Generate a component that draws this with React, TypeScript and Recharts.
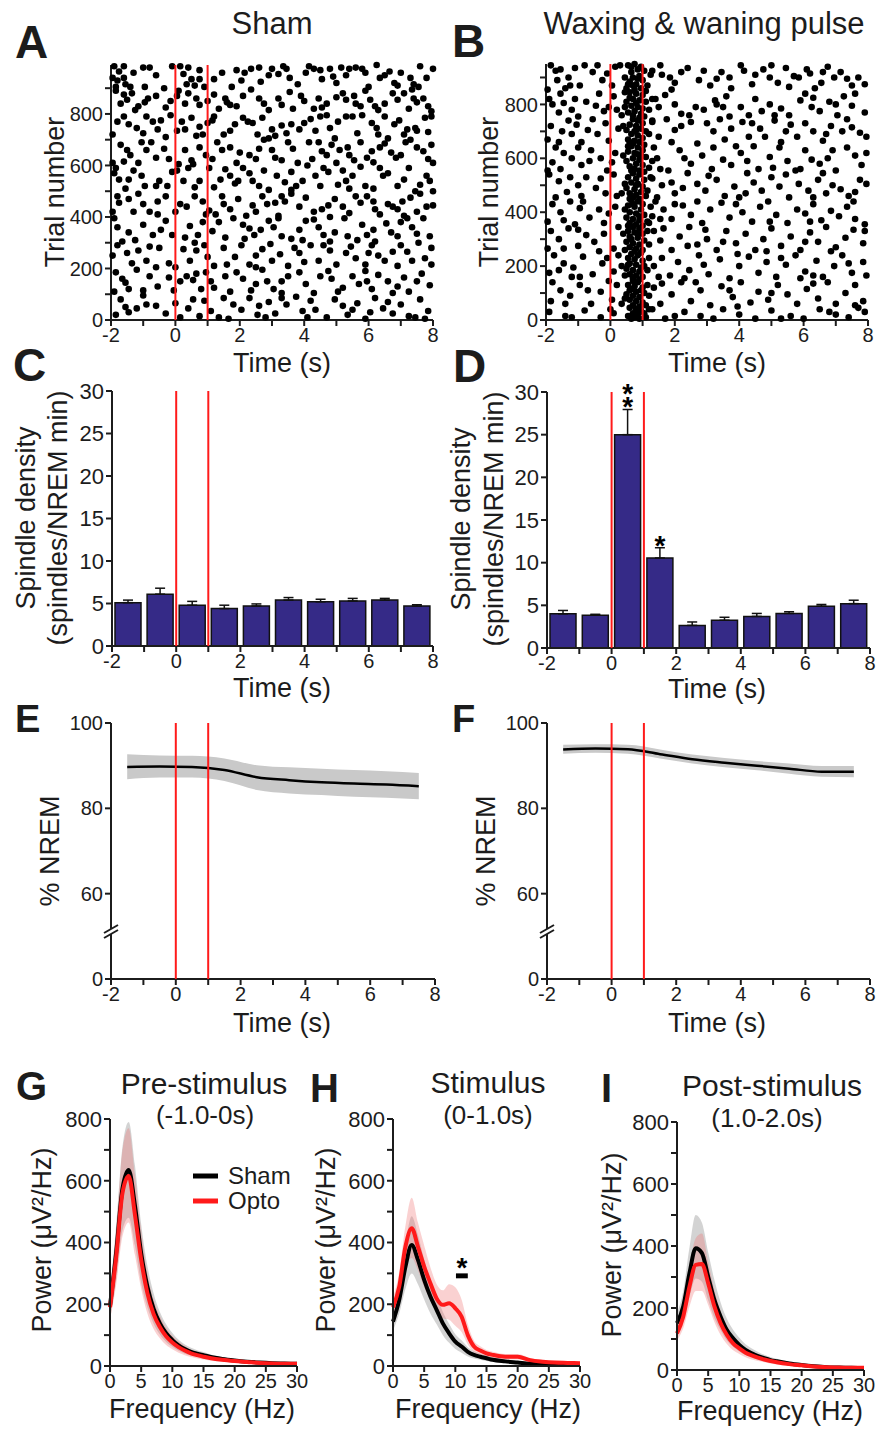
import React from 'react';
import {
  ScatterChart, Scatter, ComposedChart, Bar, ErrorBar, Line, Area,
  XAxis, YAxis, ReferenceLine, ReferenceArea,
} from 'recharts';

const FONT = 'Arial, "Liberation Sans", Helvetica, sans-serif';
const INK = '#1c1c1c';
const RED = '#ff1a1a';
const BAR = '#352a87';

// raster dots: [time (s), trial]
const shamRaster = [
  [-1.9,985],[-1.6,985],[-1.95,940],[-1.8,930],[-1.6,940],[-1.85,905],[-1.55,915],[-1.0,980],[-0.8,980],[-0.1,985],[0.15,985],[0.25,955],[0.4,980],[0.5,935],[0.75,970],[0.75,935],[0.35,915],[1.9,970],[2.15,960],[2.35,975],[2.6,980],[2.65,925],[3.0,975],[3.2,955],[3.35,985],[3.45,975],[3.55,940],[4.15,985],[4.3,975],[4.5,970],[4.55,935],[4.8,975],[4.9,945],[5.15,980],[5.4,975],[5.6,980],[5.8,975],[5.9,960],[6.25,990],[6.35,940],[6.5,950],[6.8,920],[6.9,910],[7.3,940],[7.4,915],[7.55,905],[7.6,985],[8.0,975],[-1.3,960],[1.2,935],
  [-1.85,890],[-1.6,875],[-1.5,855],[-1.7,840],[-0.95,905],[-0.85,860],[-0.95,845],[-1.15,830],[-0.3,825],[0.1,890],[0.05,870],[0.4,880],[0.65,860],[0.75,835],[1.2,875],[1.55,860],[1.6,845],[1.7,835],[1.9,830],[2.35,895],[2.6,860],[2.75,840],[3.2,860],[3.3,835],[3.9,870],[4.0,850],[4.3,820],[4.55,825],[4.7,840],[5.0,865],[5.2,880],[5.3,855],[5.55,870],[5.6,840],[5.75,830],[6.05,855],[6.2,830],[6.3,815],[6.75,880],[6.9,855],[7.1,880],[7.35,895],[7.4,860],[7.5,845],[7.7,860],[7.85,830],[7.95,810],[-1.25,815],[0.9,905],[2.9,815],
  [-1.6,790],[-1.8,770],[-1.45,760],[-1.2,745],[-0.9,790],[-0.7,770],[-0.55,740],[-0.15,795],[0.2,770],[0.3,740],[0.5,785],[0.75,750],[0.85,720],[1.2,790],[1.15,775],[1.5,720],[1.7,735],[2.1,785],[2.25,770],[2.4,765],[2.7,785],[3.0,740],[3.1,715],[3.3,755],[3.6,760],[3.85,740],[4.0,765],[4.2,780],[4.5,790],[4.7,795],[4.8,745],[5.3,790],[5.5,790],[5.8,795],[6.1,765],[6.25,745],[6.3,720],[6.8,760],[6.95,775],[7.2,740],[7.45,745],[7.5,735],[7.75,785],[7.95,790],[-1.95,720],[-0.3,710],[2.9,705],[4.95,705],[6.6,705],
  [-1.7,680],[-1.4,640],[-1.6,615],[-1.05,690],[-0.9,660],[-0.6,630],[-0.35,665],[-0.2,625],[0.5,620],[0.55,605],[0.75,670],[0.95,640],[1.3,690],[1.45,660],[1.7,670],[2.0,650],[2.3,640],[2.5,625],[2.75,700],[3.0,660],[3.1,630],[3.3,620],[3.65,665],[4.15,690],[4.45,690],[4.55,655],[4.7,640],[4.85,680],[5.1,660],[5.35,670],[5.4,640],[5.55,620],[5.95,630],[6.35,670],[6.5,685],[6.7,650],[6.85,630],[7.15,690],[7.3,700],[7.5,670],[7.7,655],[7.85,625],[8.0,610],[-1.95,610],[-1.15,610],[3.8,610],[6.15,612],[0.1,605],
  [-1.85,590],[-1.9,570],[-1.75,545],[-1.3,580],[-1.05,560],[-0.95,520],[-0.5,540],[-0.1,575],[0.05,580],[0.25,540],[0.6,515],[0.75,540],[1.05,590],[1.55,585],[1.7,560],[1.85,530],[1.95,540],[2.1,590],[2.3,570],[2.6,520],[2.9,505],[3.15,560],[3.4,535],[3.75,520],[3.95,540],[4.1,600],[4.35,560],[4.6,590],[4.75,575],[5.05,525],[5.2,580],[5.5,560],[5.75,595],[5.9,520],[6.35,590],[6.45,560],[6.6,570],[6.9,520],[7.1,545],[7.45,500],[7.6,525],[7.8,560],[-1.45,545],[-0.6,520],[1.2,515],[3.6,505],[5.4,510],[8.0,500],
  [-1.8,480],[-1.75,455],[-1.45,470],[-1.15,490],[-1.0,450],[-0.8,420],[-0.3,480],[0.15,450],[0.35,440],[0.6,480],[0.85,460],[1.05,425],[1.25,410],[1.7,430],[1.95,470],[2.4,445],[2.5,420],[2.7,480],[2.85,450],[3.1,455],[3.4,460],[3.6,490],[3.85,440],[4.05,475],[4.3,420],[4.55,430],[4.95,470],[5.2,440],[5.6,480],[5.75,455],[6.15,460],[6.2,430],[6.35,410],[6.6,450],[6.75,440],[7.05,460],[7.3,475],[7.5,420],[7.8,440],[8.0,445],[-1.95,420],[-0.55,410],[1.45,480],[3.2,405],[4.8,400],[7.1,405],
  [-1.9,395],[-1.8,360],[-1.45,340],[-1.0,370],[-0.7,330],[-0.45,350],[-0.1,330],[0.45,365],[0.7,330],[0.85,380],[1.15,345],[1.55,320],[2.1,370],[2.15,315],[2.45,330],[2.65,350],[2.9,385],[3.05,360],[3.3,325],[3.6,315],[3.85,350],[4.05,385],[4.3,390],[4.6,330],[4.95,340],[5.25,395],[5.35,325],[5.65,310],[5.95,330],[6.15,350],[6.2,305],[6.55,375],[6.7,340],[7.0,380],[7.35,360],[7.5,335],[7.9,325],[-1.65,305],[0.3,320],[1.8,395],[4.8,305],[7.7,395],
  [-1.8,290],[-1.95,250],[-1.5,260],[-1.15,270],[-0.9,230],[-0.5,280],[-0.2,220],[0.0,205],[0.45,230],[0.65,270],[0.9,290],[1.2,210],[1.5,280],[1.85,245],[2.05,290],[2.3,215],[2.7,275],[2.95,295],[3.25,255],[3.5,210],[3.7,280],[3.85,260],[4.2,290],[4.45,230],[4.8,270],[5.0,215],[5.3,260],[5.6,240],[5.9,215],[6.1,290],[6.3,250],[6.5,230],[6.75,265],[7.0,290],[7.35,230],[7.75,240],[7.95,280],[-0.6,205],[2.5,205],[6.9,210],[7.55,300],
  [-1.85,185],[-1.65,160],[-1.55,145],[-1.2,195],[-1.0,115],[-0.55,130],[-0.2,165],[0.15,150],[0.35,170],[0.55,155],[0.8,120],[1.1,150],[1.2,125],[1.55,170],[1.9,185],[2.1,160],[2.35,115],[2.7,195],[2.85,150],[3.05,120],[3.5,170],[3.85,185],[4.05,140],[4.3,105],[4.75,190],[4.85,160],[5.2,125],[5.5,170],[5.7,140],[6.1,120],[6.3,175],[6.6,150],[6.9,130],[7.1,165],[7.25,110],[7.65,180],[7.9,135],[-1.9,110],[0.65,180],[3.3,105],[5.9,190],
  [-1.7,80],[-1.55,50],[-1.85,20],[-1.2,45],[-0.6,55],[-0.3,25],[0.15,10],[0.4,45],[0.75,15],[0.9,75],[1.1,35],[1.35,10],[1.65,5],[1.8,60],[2.05,40],[2.3,85],[2.55,20],[2.9,70],[3.1,25],[3.45,60],[3.75,90],[3.95,35],[4.35,40],[4.7,10],[4.95,80],[5.2,55],[5.35,20],[5.65,65],[5.9,5],[6.2,85],[6.45,45],[6.75,25],[7.0,60],[7.25,15],[7.45,10],[7.85,35],[-1.0,95],[0.55,80],[2.8,10],[4.1,10],[6.05,30],[7.6,80],
  [-1.75,965],[-1.4,905],[-0.6,950],[-0.35,900],[0.6,910],[1.45,960],[1.75,905],[2.05,930],[2.9,950],[3.8,915],[4.05,960],[5.0,920],[5.3,950],[6.0,905],[6.65,965],[7.0,960],[7.8,940],
  [-1.35,880],[-0.6,870],[-0.15,850],[0.3,840],[1.0,850],[1.35,820],[2.1,870],[3.55,885],[3.65,820],[4.45,860],[5.9,890],[6.5,840],[7.25,820],
  [-1.0,725],[-0.45,775],[0.05,735],[0.65,715],[1.0,765],[1.85,760],[2.55,720],[3.45,725],[4.35,735],[5.05,770],[5.65,725],[6.5,790],[7.1,720],[7.85,730],
  [-1.5,660],[-0.75,690],[0.3,660],[1.15,625],[1.9,610],[2.6,665],[3.5,690],[4.25,625],[5.0,610],[5.75,690],[6.1,655],[7.0,640],[7.95,680],
  [-1.55,510],[-0.25,520],[0.4,590],[1.4,545],[2.4,540],[2.75,580],[3.6,575],[4.5,520],[5.3,540],[6.15,510],[7.25,590],[7.9,540],
  [-1.3,420],[-0.55,460],[0.0,420],[0.95,410],[1.5,450],[2.2,405],[3.3,480],[4.75,445],[5.4,415],[5.95,480],[6.9,430],[7.6,490],
  [-1.25,310],[-0.3,385],[0.6,300],[1.35,380],[2.3,355],[3.2,395],[3.95,310],[4.45,360],[5.8,370],[6.9,325],[7.2,395],
  [-1.35,220],[-0.8,285],[0.25,275],[1.0,245],[1.6,215],[2.5,250],[3.0,230],[4.0,225],[4.6,290],[5.45,285],[6.0,260],[7.2,265],[7.95,215],
  [-1.45,120],[-0.8,170],[-0.05,115],[0.95,185],[1.7,110],[2.5,140],[3.3,150],[4.5,170],[5.05,110],[5.95,150],[6.75,105],[7.5,150],
  [-1.45,30],[-0.9,60],[0.0,65],[1.5,85],[2.6,55],[3.3,85],[4.2,75],[5.5,40],[6.6,70],[7.75,5],
];

const pulseRaster = [
  [-1.85,945],[-1.7,925],[-1.55,930],[-1.3,900],[-1.1,935],[-0.8,945],[-0.55,920],[-0.25,890],[0.15,940],[0.3,945],[1.3,925],[1.6,910],[1.85,900],[2.2,920],[2.4,935],[2.75,890],[3.45,920],[3.7,900],[4.05,945],[4.15,925],[4.5,910],[4.75,930],[4.95,900],[5.2,880],[5.45,935],[5.7,905],[6.1,930],[6.2,915],[6.55,880],[6.75,940],[6.95,900],[7.15,920],[7.35,895],[7.5,870],[7.9,875],[-1.95,855],[-1.4,860],[-0.95,870],[0.05,870],[1.9,855],[3.1,870],[3.75,860],[5.55,865],[6.35,860],
  [-1.9,820],[-1.8,800],[-1.55,840],[-1.45,805],[-1.2,780],[-0.75,810],[-0.45,795],[-0.2,775],[0.1,830],[0.2,780],[1.4,820],[1.5,790],[2.2,765],[2.65,790],[2.9,780],[3.25,815],[3.3,800],[3.5,790],[4.05,790],[4.3,760],[4.7,775],[4.95,800],[5.3,785],[5.55,760],[5.9,815],[6.25,790],[6.5,775],[6.8,810],[7.05,760],[7.25,830],[7.5,795],[7.9,770],[-1.0,755],[0.45,845],[2.45,760],[3.7,755],[6.05,840],
  [-1.85,720],[-1.5,700],[-1.3,740],[-1.05,725],[-0.7,705],[-0.4,690],[-0.15,730],[0.25,710],[1.5,680],[1.75,745],[2.2,720],[2.5,735],[3.0,730],[3.2,700],[3.55,670],[3.75,710],[4.1,735],[4.4,730],[4.65,710],[4.8,680],[5.1,740],[5.45,700],[5.8,680],[6.05,730],[6.3,700],[6.6,665],[6.85,720],[7.2,700],[7.5,715],[7.75,695],[7.95,680],[-1.95,670],[-0.9,660],[1.9,660],[2.7,655],[5.3,660],
  [-1.7,640],[-1.45,620],[-1.8,585],[-1.2,600],[-0.9,575],[-0.6,630],[-0.3,600],[0.05,585],[1.45,600],[1.55,560],[2.15,630],[2.5,580],[2.85,610],[3.15,560],[3.5,595],[3.75,575],[4.05,620],[4.25,590],[4.6,560],[4.95,605],[5.25,640],[5.5,590],[5.75,555],[6.05,630],[6.25,595],[6.5,580],[6.75,600],[7.0,555],[7.35,640],[7.6,610],[7.95,620],[-1.95,555],[-0.1,555],[1.8,555],[3.9,645],[5.9,560],
  [-1.9,540],[-1.6,515],[-1.35,475],[-1.0,500],[-0.75,530],[-0.45,490],[-0.15,470],[0.1,540],[1.3,525],[1.6,500],[2.0,470],[2.4,545],[2.7,505],[2.95,480],[3.3,520],[3.55,460],[3.85,495],[4.2,470],[4.45,510],[4.7,480],[5.0,530],[5.25,495],[5.55,455],[5.85,505],[6.15,480],[6.45,520],[6.7,470],[6.9,500],[7.15,485],[7.4,460],[7.75,520],[7.95,505],[-1.7,455],[0.2,460],[1.9,510],[4.0,455],[6.3,455],
  [-1.8,430],[-1.55,400],[-1.25,440],[-0.95,415],[-0.65,380],[-0.35,410],[-0.05,395],[0.15,420],[1.4,440],[1.65,410],[1.9,375],[2.25,425],[2.5,390],[2.85,360],[3.1,410],[3.45,435],[3.7,380],[4.1,400],[4.4,365],[4.65,420],[4.9,440],[5.15,390],[5.5,360],[5.8,410],[6.05,395],[6.3,430],[6.55,370],[6.85,405],[7.1,385],[7.35,420],[7.6,375],[7.9,355],[-1.95,365],[-1.1,355],[1.2,360],[2.0,430],
  [-1.85,330],[-1.6,300],[-1.3,340],[-1.0,275],[-0.75,315],[-0.5,290],[-0.2,320],[0.1,265],[1.35,330],[1.55,295],[1.9,260],[2.15,310],[2.45,345],[2.7,280],[3.0,300],[3.3,260],[3.6,330],[3.9,285],[4.2,320],[4.5,260],[4.75,300],[5.0,340],[5.3,275],[5.6,310],[5.9,260],[6.2,325],[6.45,290],[6.7,345],[7.0,270],[7.3,305],[7.55,335],[7.85,285],[-1.95,265],[0.25,345],[2.95,335],[6.85,255],
  [-1.75,240],[-1.45,210],[-1.9,175],[-1.15,195],[-0.85,235],[-0.55,170],[-0.25,210],[0.1,180],[1.35,200],[1.6,230],[1.85,165],[2.1,215],[2.45,185],[2.75,240],[3.05,170],[3.4,225],[3.7,155],[4.0,200],[4.3,235],[4.6,175],[4.85,215],[5.15,160],[5.45,205],[5.75,240],[6.05,180],[6.4,220],[6.6,160],[6.95,200],[7.2,240],[7.5,175],[7.85,215],[-1.2,160],[0.25,240],[2.3,155],[5.9,155],[7.95,165],
  [-1.8,140],[-1.55,110],[-1.85,70],[-1.25,90],[-0.95,130],[-0.6,60],[-0.3,105],[0.05,75],[1.35,120],[1.55,60],[1.9,95],[2.2,140],[2.5,70],[2.8,110],[3.1,55],[3.45,125],[3.8,85],[4.05,140],[4.35,65],[4.6,105],[4.9,75],[5.2,130],[5.5,95],[5.8,60],[6.1,115],[6.45,80],[6.75,140],[7.0,60],[7.3,100],[7.6,130],[7.85,70],[-0.05,145],[1.1,55],[3.95,50],
  [-1.9,30],[-1.4,15],[-0.8,35],[-0.3,10],[0.1,25],[1.3,40],[1.7,5],[2.3,30],[2.8,15],[3.5,40],[4.0,20],[4.5,5],[5.0,35],[5.6,15],[6.0,5],[6.5,40],[7.0,20],[7.4,10],[7.9,30],
  [-1.65,890],[-1.25,870],[-0.4,945],[-0.1,915],[1.55,945],[2.0,880],[2.9,925],[3.3,895],[4.4,875],[5.0,945],[5.85,900],[6.6,920],[7.7,900],
  [-1.6,770],[-1.1,820],[-0.35,840],[-0.05,790],[1.7,835],[2.0,800],[3.6,830],[4.5,820],[5.1,760],[6.3,825],[7.0,800],[7.6,840],
  [-1.6,660],[-1.2,690],[-0.55,745],[-0.05,665],[1.3,740],[2.0,705],[3.4,745],[4.3,680],[5.6,725],[6.7,690],[7.35,745],
  [-1.55,560],[-1.0,640],[-0.65,590],[0.15,620],[1.35,640],[2.3,600],[3.2,640],[4.45,645],[5.05,565],[6.9,630],[7.8,575],
  [-1.25,530],[-0.9,460],[-0.3,525],[1.45,455],[2.25,490],[3.05,535],[4.25,545],[5.45,540],[6.6,545],[7.6,475],
  [-1.45,370],[-0.85,440],[-0.2,360],[1.55,375],[2.7,440],[3.9,430],[4.95,365],[6.2,365],[7.55,440],
  [-1.45,265],[-1.0,335],[-0.35,255],[1.65,340],[2.4,275],[3.5,290],[4.85,255],[6.05,290],[7.9,330],
  [-1.6,185],[-0.95,160],[-0.1,230],[1.5,160],[2.9,205],[3.95,245],[5.3,230],[6.3,165],[7.4,210],
  [-1.4,60],[-0.7,110],[0.2,130],[1.6,135],[2.65,140],[3.7,110],[5.0,100],[6.3,135],[7.6,55],
  [-1.2,10],[0.0,40],[2.0,15],[3.2,5],[5.3,5],[6.8,30],[7.7,45],
];

// dense column of spindle onsets during the pulse
const pulseBurst = [
  [0.55,945],[0.75,950],[0.85,930],[0.65,920],[0.95,940],[0.7,900],[0.9,905],[1.05,925],[0.6,885],[0.8,875],[1.0,890],[1.15,870],[0.5,860],[0.75,855],[0.95,860],[0.45,900],[1.25,910],[0.65,940],[0.85,895],[0.7,870],[1.1,850],[0.55,875],
  [0.6,845],[0.8,840],[1.0,835],[0.7,820],[0.9,815],[0.5,810],[1.1,810],[0.65,795],[0.85,790],[1.0,785],[0.75,775],[0.55,770],[0.95,765],[1.2,780],[0.45,790],[0.7,760],[0.9,750],[0.8,805],[1.05,755],[0.6,825],[1.3,820],[0.35,760],
  [0.7,745],[0.85,740],[1.0,730],[0.6,725],[0.8,720],[0.95,710],[0.5,705],[0.75,700],[1.1,700],[0.65,690],[0.85,685],[1.0,675],[0.55,670],[0.75,665],[0.9,660],[1.2,690],[0.4,720],[0.7,655],[1.05,650],[0.8,705],[0.6,660],[1.3,735],
  [0.65,645],[0.85,640],[1.0,630],[0.55,625],[0.75,620],[0.95,610],[0.7,600],[0.9,595],[1.1,605],[0.5,590],[0.8,580],[1.0,575],[0.6,570],[0.75,560],[0.9,555],[1.2,565],[0.4,610],[1.05,550],[0.65,555],[0.85,615],[0.55,645],[1.3,590],
  [0.7,545],[0.9,540],[0.55,530],[0.8,525],[1.05,520],[0.65,510],[0.85,505],[1.0,495],[0.5,490],[0.75,485],[0.95,475],[0.6,470],[0.8,465],[1.15,480],[0.45,505],[0.7,455],[0.9,450],[1.1,460],[1.25,530],[0.6,450],[0.8,500],[0.35,470],
  [0.65,445],[0.85,440],[1.0,430],[0.55,425],[0.75,420],[0.95,410],[0.6,400],[0.8,395],[1.05,390],[0.5,380],[0.7,375],[0.9,370],[1.15,365],[0.6,360],[0.8,355],[1.0,350],[0.45,410],[1.25,420],[0.7,430],[0.9,385],[0.55,350],[1.3,385],
  [0.7,345],[0.9,340],[0.55,330],[0.75,325],[1.0,320],[0.6,310],[0.85,305],[1.05,295],[0.5,290],[0.7,285],[0.9,280],[0.6,270],[0.8,265],[1.0,260],[0.45,260],[1.15,330],[0.75,255],[0.95,250],[1.2,280],[0.65,300],[0.85,320],[0.4,320],
  [0.65,245],[0.85,240],[0.55,230],[0.75,225],[1.0,220],[0.6,210],[0.8,205],[1.05,200],[0.5,190],[0.7,185],[0.9,180],[0.6,170],[0.8,165],[1.0,160],[0.45,165],[1.2,230],[0.7,155],[0.9,150],[1.15,185],[0.55,205],[0.95,195],[0.35,200],
  [0.7,145],[0.85,140],[0.55,130],[0.75,125],[1.0,120],[0.6,110],[0.8,105],[1.05,100],[0.5,95],[0.7,90],[0.9,85],[0.6,75],[0.8,70],[1.0,65],[0.45,80],[1.15,130],[0.7,55],[0.9,50],[1.2,90],[0.65,115],[0.95,110],[0.35,60],
  [0.6,45],[0.8,40],[0.95,35],[0.7,25],[0.85,20],[1.05,25],[0.55,15],[0.75,10],[0.9,5],[1.1,10],[0.65,5],[1.2,40],
];

const timeTicks = [-2, -1, 0, 1, 2, 3, 4, 5, 6, 7, 8];
const trialTicks = [0, 100, 200, 300, 400, 500, 600, 700, 800, 900];

// spindle density per 1-s bin
const binCenters = [-1.5, -0.5, 0.5, 1.5, 2.5, 3.5, 4.5, 5.5, 6.5, 7.5];
const shamDensity = [5.1, 6.1, 4.8, 4.4, 4.7, 5.4, 5.2, 5.3, 5.4, 4.7];
const shamDensityErr = [0.3, 0.7, 0.45, 0.4, 0.25, 0.3, 0.3, 0.3, 0.2, 0.15];
const pulseDensity = [4.0, 3.85, 25.0, 10.55, 2.65, 3.25, 3.7, 4.05, 4.9, 5.2];
const pulseDensityErr = [0.4, 0.1, 2.95, 1.2, 0.4, 0.35, 0.35, 0.2, 0.2, 0.4];
const pulseSig = ['', '', '**', '*', '', '', '', '', '', ''];
const densityTicks = [0, 5, 10, 15, 20, 25, 30];

// % NREM (mean and band)
const shamNrem = [89.7, 89.8, 89.7, 89.0, 87.3, 86.6, 86.1, 85.8, 85.6, 85.2];
const shamNremLo = [86.8, 87.2, 87.2, 86.4, 84.3, 83.5, 83.1, 82.7, 82.5, 82.1];
const shamNremHi = [92.7, 92.4, 92.3, 91.7, 90.1, 89.6, 89.3, 89.0, 88.7, 88.3];
const pulseNrem = [93.8, 94.0, 93.85, 92.7, 91.5, 90.7, 90.0, 89.3, 88.6, 88.6];
const pulseNremLo = [92.8, 93.0, 92.8, 91.7, 90.5, 89.6, 88.9, 88.1, 87.4, 87.3];
const pulseNremHi = [94.9, 95.0, 94.9, 93.8, 92.6, 91.8, 91.1, 90.5, 89.9, 89.9];

// power spectra
const freqHz = [0, 1, 2, 3, 4, 5, 6, 7, 8, 9, 10, 11, 12, 13, 14, 15, 16, 18, 20, 22, 24, 26, 28, 30];
const preSham = [195, 370, 575, 635, 520, 365, 257, 185, 138, 106, 84, 67, 55, 46, 40, 35, 30, 23, 18, 14, 11, 9, 8, 7];
const preShamLo = [150, 280, 440, 480, 390, 270, 190, 137, 102, 78, 62, 49, 40, 34, 29, 25, 22, 17, 13, 10, 8, 6, 5, 4];
const preShamHi = [240, 460, 710, 790, 650, 460, 325, 235, 175, 135, 107, 85, 70, 59, 51, 45, 38, 29, 23, 18, 14, 12, 11, 10];
const preOpto = [190, 355, 560, 615, 490, 344, 236, 168, 126, 96, 76, 61, 50, 41, 35, 30, 26, 20, 16, 13, 10, 8, 7, 7];
const preOptoLo = [150, 265, 420, 465, 360, 250, 170, 120, 90, 68, 54, 43, 35, 29, 24, 21, 18, 14, 11, 9, 7, 5, 4, 4];
const preOptoHi = [230, 445, 700, 770, 620, 440, 300, 215, 162, 124, 98, 79, 65, 53, 46, 39, 34, 26, 21, 17, 13, 11, 10, 10];
const stimSham = [144, 214, 322, 392, 344, 279, 225, 182, 138, 106, 79, 63, 46, 36, 30, 25, 20, 15, 11, 7, 5, 4, 4, 4];
const stimShamLo = [115, 170, 250, 300, 265, 215, 170, 135, 100, 75, 55, 43, 31, 24, 20, 16, 13, 9, 6, 4, 2, 2, 2, 2];
const stimShamHi = [175, 260, 395, 485, 425, 345, 280, 230, 175, 137, 103, 83, 61, 48, 40, 34, 27, 21, 16, 10, 8, 6, 6, 6];
const stimOpto = [190, 257, 387, 446, 387, 322, 268, 219, 198, 203, 187, 160, 100, 63, 50, 41, 36, 30, 30, 19, 14, 11, 10, 9];
const stimOptoLo = [160, 210, 320, 350, 310, 255, 215, 175, 155, 150, 130, 110, 70, 45, 36, 30, 26, 21, 21, 13, 9, 7, 6, 6];
const stimOptoHi = [220, 305, 455, 545, 465, 390, 320, 265, 245, 265, 255, 215, 135, 82, 64, 52, 46, 39, 39, 26, 19, 15, 14, 12];
const postSham = [151, 205, 312, 393, 377, 301, 226, 172, 129, 102, 81, 65, 54, 45, 38, 32, 28, 21, 16, 12, 9, 8, 7, 6];
const postShamLo = [120, 160, 235, 295, 285, 225, 168, 128, 95, 75, 60, 48, 40, 33, 28, 23, 20, 15, 11, 8, 6, 5, 4, 4];
const postShamHi = [185, 255, 395, 500, 475, 380, 290, 218, 165, 130, 104, 83, 69, 58, 49, 42, 36, 27, 21, 16, 12, 11, 10, 9];
const postOpto = [118, 172, 269, 339, 342, 280, 205, 151, 113, 86, 70, 56, 47, 40, 34, 29, 25, 19, 15, 11, 9, 8, 7, 7];
const postOptoLo = [95, 135, 205, 255, 255, 210, 155, 113, 84, 64, 52, 41, 34, 29, 25, 21, 18, 14, 11, 8, 6, 5, 4, 4];
const postOptoHi = [145, 210, 335, 425, 440, 350, 258, 190, 142, 108, 88, 71, 60, 51, 43, 37, 32, 24, 19, 14, 12, 11, 10, 10];
const freqTicks = [0, 5, 10, 15, 20, 25, 30];
const powerTicks = [0, 100, 200, 300, 400, 500, 600, 700, 800];

// plot-area rectangles (page pixels)
const YW = 60, XH = 40, MT = 24, MR = 16;
const R = {
  A: { x: 111, y: 65, w: 322, h: 255 },
  B: { x: 546, y: 64, w: 322, h: 256 },
  C: { x: 112, y: 391, w: 321, h: 255 },
  D: { x: 547, y: 392, w: 323, h: 256 },
  E: { x: 111, y: 723, w: 324, h: 256 },
  F: { x: 547, y: 723, w: 323, h: 256 },
  G: { x: 110, y: 1119, w: 187, h: 247 },
  H: { x: 393, y: 1119, w: 187, h: 247 },
  I: { x: 677, y: 1122, w: 187, h: 248 },
};

const size = (r) => ({
  width: r.w + YW + MR,
  height: r.h + MT + XH,
  margin: { top: MT, right: MR, left: 0, bottom: 0 },
});
const place = (r) => ({ position: 'absolute' as const, left: r.x - YW, top: r.y - MT });

const axisLine = { stroke: INK, strokeWidth: 2 };
const tickLine = { stroke: INK, strokeWidth: 2 };
const tick = { fill: INK, fontSize: 20, fontFamily: FONT };
const bigTick = { fill: INK, fontSize: 22, fontFamily: FONT };
const evenOnly = (v) => (v % 2 === 0 ? String(v) : '');
const every200 = (v) => (v % 200 === 0 ? String(v) : '');

const timeAxis = (
  <XAxis type="number" dataKey="t" domain={[-2, 8]} ticks={timeTicks} interval={0}
    tickFormatter={evenOnly} axisLine={axisLine} tickLine={tickLine} tick={tick}
    tickSize={6} height={XH} />
);

const redLines = [0, 1].map((x) => (
  <ReferenceLine key={x} x={x} stroke={RED} strokeWidth={2} zIndex={1000} />
));

const dot = (p) => <circle cx={p.cx} cy={p.cy} r={3.3} fill="#000" />;

function Raster({ r, dots, extra, yMax }) {
  const pts = dots.map(([t, trial]) => ({ t, trial }));
  const pts2 = (extra || []).map(([t, trial]) => ({ t, trial }));
  return (
    <div style={place(r)}>
      <ScatterChart {...size(r)}>
        {timeAxis}
        <YAxis type="number" dataKey="trial" domain={[0, yMax]} ticks={trialTicks} interval={0}
          tickFormatter={every200} axisLine={axisLine} tickLine={tickLine} tick={tick}
          tickSize={6} width={YW} />
        <Scatter data={pts} shape={dot} isAnimationActive={false} />
        {pts2.length > 0 && <Scatter data={pts2} shape={dot} isAnimationActive={false} />}
        {redLines}
      </ScatterChart>
    </div>
  );
}

const sigShape = (p) => {
  const s = p && p.payload && p.payload.sig;
  if (!s || !isFinite(p.cy)) return <g />;
  return (
    <g>
      {s.split('').map((_, k) => (
        <text key={k} x={p.cx} y={p.cy - 9 - 13 * k + 16} textAnchor="middle"
          fontSize={28} fontWeight="bold" fontFamily={FONT} fill="#000">*</text>
      ))}
    </g>
  );
};

function Density({ r, values, errs, sig }) {
  const data = binCenters.map((t, i) => ({
    t, v: values[i], e: [0, errs[i]],
    sig: sig ? sig[i] : '', sigTop: sig && sig[i] ? values[i] + errs[i] : null,
  }));
  return (
    <div style={place(r)}>
      <ComposedChart data={data} {...size(r)}>
        {timeAxis}
        <YAxis type="number" domain={[0, 30]} ticks={densityTicks} interval={0}
          axisLine={axisLine} tickLine={tickLine} tick={bigTick} tickSize={6} width={YW} />
        <Bar dataKey="v" fill={BAR} stroke="#111" strokeWidth={1.5} barSize={26} isAnimationActive={false}>
          <ErrorBar dataKey="e" direction="y" width={5} stroke="#111" strokeWidth={1.5} />
        </Bar>
        {redLines}
        {sig && <Scatter dataKey="sigTop" shape={sigShape} isAnimationActive={false} />}
      </ComposedChart>
    </div>
  );
}

function Nrem({ r, mean, lo, hi }) {
  const data = binCenters.map((t, i) => ({ t, m: mean[i], band: [lo[i], hi[i]] }));
  return (
    <div style={place(r)}>
      <ComposedChart data={data} {...size(r)}>
        {timeAxis}
        <YAxis type="number" domain={[40, 100]} ticks={[40, 60, 80, 100]} interval={0}
          tickFormatter={(v) => (v === 40 ? '0' : String(v))}
          axisLine={axisLine} tickLine={tickLine} tick={tick} tickSize={6} width={YW} />
        <Area dataKey="band" type="monotone" fill="#c9c9c9" fillOpacity={1} stroke="none"
          isAnimationActive={false} />
        <Line dataKey="m" type="monotone" stroke="#000" strokeWidth={2.5} dot={false}
          activeDot={false} isAnimationActive={false} />
        {redLines}
      </ComposedChart>
    </div>
  );
}

function Spectrum({ r, s, sLo, sHi, o, oLo, oHi, mark }) {
  const data = freqHz.map((f, i) => ({ f, s: s[i], sb: [sLo[i], sHi[i]], o: o[i], ob: [oLo[i], oHi[i]] }));
  return (
    <div style={place(r)}>
      <ComposedChart data={data} {...size(r)}>
        <XAxis type="number" dataKey="f" domain={[0, 30]} ticks={freqTicks} interval={0}
          axisLine={axisLine} tickLine={tickLine} tick={tick} tickSize={6} height={XH} />
        <YAxis type="number" domain={[0, 800]} ticks={powerTicks} interval={0}
          tickFormatter={every200} axisLine={axisLine} tickLine={tickLine} tick={bigTick}
          tickSize={6} width={YW} />
        <Area dataKey="sb" type="monotone" fill="#8c8c8c" fillOpacity={0.38} stroke="none"
          isAnimationActive={false} />
        <Area dataKey="ob" type="monotone" fill="#f07070" fillOpacity={0.32} stroke="none"
          isAnimationActive={false} />
        <Line dataKey="s" type="monotone" stroke="#000" strokeWidth={4} dot={false}
          activeDot={false} isAnimationActive={false} />
        <Line dataKey="o" type="monotone" stroke={RED} strokeWidth={4} dot={false}
          activeDot={false} isAnimationActive={false} />
        {mark && (
          <ReferenceArea x1={10.1} x2={12} y1={284} y2={300} fill="#000" fillOpacity={1}
            stroke="none" label={{ value: '*', position: 'top', offset: -4, fontSize: 28,
              fontWeight: 'bold', fill: '#000', fontFamily: FONT }} />
        )}
      </ComposedChart>
    </div>
  );
}

const txt = { fill: INK, fontFamily: FONT };

function VLabel({ x, y, children, size = 27 }) {
  return (
    <text transform={`translate(${x},${y}) rotate(-90)`} textAnchor="middle"
      dominantBaseline="central" fontSize={size} {...txt}>{children}</text>
  );
}

function HLabel({ x, y, children, size = 27, anchor = 'middle', weight = 'normal' }) {
  return (
    <text x={x} y={y} textAnchor={anchor} fontSize={size} fontWeight={weight} {...txt}>{children}</text>
  );
}

function AxisBreak({ x, y }) {
  return (
    <g>
      <polygon points={`${x - 7},${y + 3} ${x + 7},${y - 5} ${x + 7},${y} ${x - 7},${y + 8}`} fill="#fff" />
      <line x1={x - 7} y1={y + 3} x2={x + 7} y2={y - 5} stroke={INK} strokeWidth={2} />
      <line x1={x - 7} y1={y + 8} x2={x + 7} y2={y} stroke={INK} strokeWidth={2} />
    </g>
  );
}

export default function App() {
  return (
    <div style={{ position: 'absolute', left: 0, top: 0, width: 876, height: 1429, background: '#fff', overflow: 'hidden' }}>
      <Raster r={R.A} dots={shamRaster} extra={null} yMax={990} />
      <Raster r={R.B} dots={pulseRaster} extra={pulseBurst} yMax={950} />
      <Density r={R.C} values={shamDensity} errs={shamDensityErr} sig={null} />
      <Density r={R.D} values={pulseDensity} errs={pulseDensityErr} sig={pulseSig} />
      <Nrem r={R.E} mean={shamNrem} lo={shamNremLo} hi={shamNremHi} />
      <Nrem r={R.F} mean={pulseNrem} lo={pulseNremLo} hi={pulseNremHi} />
      <Spectrum r={R.G} s={preSham} sLo={preShamLo} sHi={preShamHi} o={preOpto} oLo={preOptoLo} oHi={preOptoHi} mark={false} />
      <Spectrum r={R.H} s={stimSham} sLo={stimShamLo} sHi={stimShamHi} o={stimOpto} oLo={stimOptoLo} oHi={stimOptoHi} mark />
      <Spectrum r={R.I} s={postSham} sLo={postShamLo} sHi={postShamHi} o={postOpto} oLo={postOptoLo} oHi={postOptoHi} mark={false} />

      <svg width={876} height={1429} style={{ position: 'absolute', left: 0, top: 0, pointerEvents: 'none' }}>
        <HLabel x={272} y={34} size={31}>Sham</HLabel>
        <HLabel x={704} y={34} size={31}>Waxing &amp; waning pulse</HLabel>

        <HLabel x={15} y={58} size={46} anchor="start" weight="bold">A</HLabel>
        <HLabel x={452} y={57} size={46} anchor="start" weight="bold">B</HLabel>
        <HLabel x={13} y={381} size={46} anchor="start" weight="bold">C</HLabel>
        <HLabel x={453} y={382} size={46} anchor="start" weight="bold">D</HLabel>
        <HLabel x={15} y={732} size={38} anchor="start" weight="bold">E</HLabel>
        <HLabel x={452} y={732} size={38} anchor="start" weight="bold">F</HLabel>
        <HLabel x={16} y={1100} size={40} anchor="start" weight="bold">G</HLabel>
        <HLabel x={310} y={1102} size={40} anchor="start" weight="bold">H</HLabel>
        <HLabel x={601} y={1102} size={40} anchor="start" weight="bold">I</HLabel>

        <HLabel x={282} y={372}>Time (s)</HLabel>
        <HLabel x={717} y={372}>Time (s)</HLabel>
        <HLabel x={282} y={697}>Time (s)</HLabel>
        <HLabel x={717} y={698}>Time (s)</HLabel>
        <HLabel x={282} y={1032}>Time (s)</HLabel>
        <HLabel x={717} y={1032}>Time (s)</HLabel>
        <HLabel x={202} y={1418}>Frequency (Hz)</HLabel>
        <HLabel x={488} y={1418}>Frequency (Hz)</HLabel>
        <HLabel x={770} y={1420}>Frequency (Hz)</HLabel>

        <VLabel x={55} y={192}>Trial number</VLabel>
        <VLabel x={489} y={192}>Trial number</VLabel>
        <VLabel x={26} y={518}>Spindle density</VLabel>
        <VLabel x={58} y={518}>(spindles/NREM min)</VLabel>
        <VLabel x={461} y={519}>Spindle density</VLabel>
        <VLabel x={494} y={519}>(spindles/NREM min)</VLabel>
        <VLabel x={50} y={851}>% NREM</VLabel>
        <VLabel x={486} y={851}>% NREM</VLabel>
        <VLabel x={42} y={1240}>Power (μV²/Hz)</VLabel>
        <VLabel x={326} y={1240}>Power (μV²/Hz)</VLabel>
        <VLabel x={612} y={1245}>Power (μV²/Hz)</VLabel>

        <HLabel x={204} y={1094} size={30}>Pre-stimulus</HLabel>
        <HLabel x={205} y={1124} size={26}>(-1.0-0s)</HLabel>
        <HLabel x={488} y={1093} size={30}>Stimulus</HLabel>
        <HLabel x={488} y={1124} size={26}>(0-1.0s)</HLabel>
        <HLabel x={772} y={1096} size={30}>Post-stimulus</HLabel>
        <HLabel x={767} y={1127} size={26}>(1.0-2.0s)</HLabel>

        <line x1={193} y1={1176} x2={218} y2={1176} stroke="#000" strokeWidth={5} />
        <HLabel x={228} y={1184} size={24} anchor="start">Sham</HLabel>
        <line x1={193} y1={1201} x2={218} y2={1201} stroke={RED} strokeWidth={5} />
        <HLabel x={228} y={1209} size={24} anchor="start">Opto</HLabel>

        <AxisBreak x={111} y={930} />
        <AxisBreak x={547} y={930} />
      </svg>
    </div>
  );
}
